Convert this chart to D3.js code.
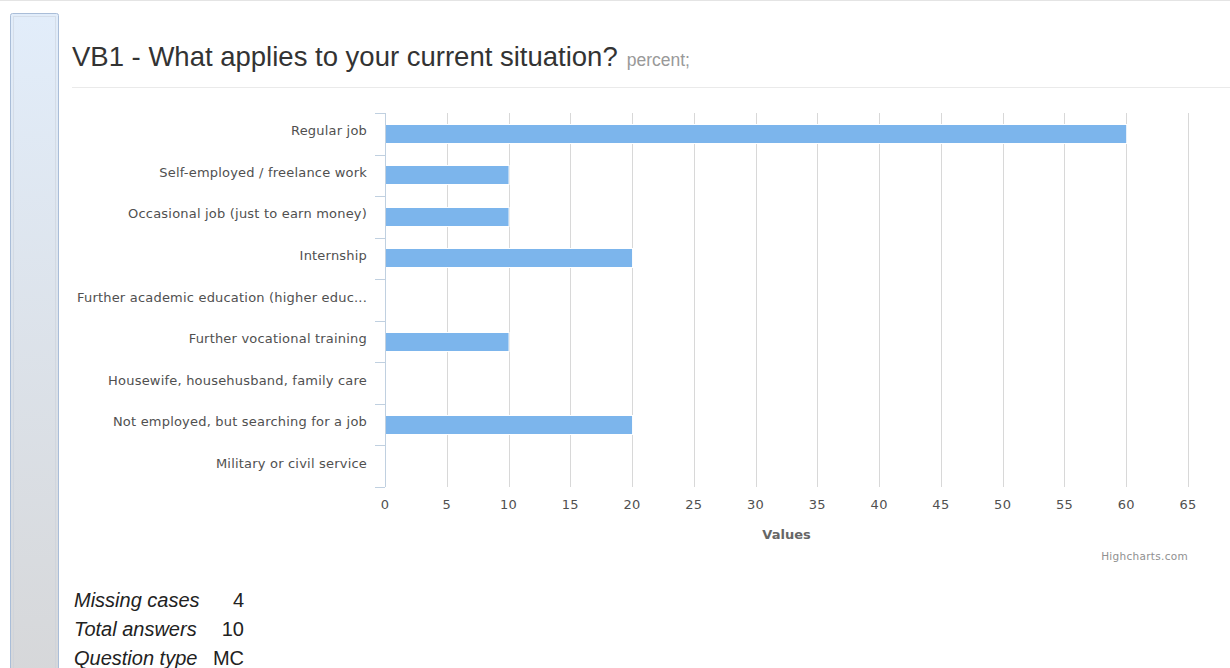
<!DOCTYPE html>
<html>
<head>
<meta charset="utf-8">
<script src="https://cdn.jsdelivr.net/npm/d3@7/dist/d3.min.js"></script>
<style>
  html, body { margin: 0; padding: 0; background: #fff; }
  svg { display: block; }
</style>
</head>
<body>
<svg id="chart" width="1230" height="668"></svg>
<script>
// Answer options and the share of respondents (percent) for each
const categories = [
  "Regular job",
  "Self-employed / freelance work",
  "Occasional job (just to earn money)",
  "Internship",
  "Further academic education (higher educ...",
  "Further vocational training",
  "Housewife, househusband, family care",
  "Not employed, but searching for a job",
  "Military or civil service"
];
const values = [60, 10, 10, 20, 0, 10, 0, 20, 0];
const valueTicks = [0, 5, 10, 15, 20, 25, 30, 35, 40, 45, 50, 55, 60, 65];

// Summary rows printed under the chart
const summaryLabels = ["Missing cases", "Total answers", "Question type"];
const summaryValues = ["4", "10", "MC"];

const svg = d3.select("#chart");
const W = 1230, H = 668;

const defs = svg.append("defs");
const grad = defs.append("linearGradient")
  .attr("id", "sideGrad").attr("x1", 0).attr("y1", 0).attr("x2", 0).attr("y2", 1);
grad.append("stop").attr("offset", "0%").attr("stop-color", "#e2edfa");
grad.append("stop").attr("offset", "100%").attr("stop-color", "#d6d7d9");

// page top rule
svg.append("line").attr("x1", 0).attr("x2", W).attr("y1", 0.5).attr("y2", 0.5)
  .attr("stroke", "#e4e4e4");

// side panel
svg.append("rect").attr("x", 10.5).attr("y", 13.5).attr("width", 48).attr("height", H)
  .attr("rx", 2).attr("fill", "url(#sideGrad)").attr("stroke", "#a9bdd8");
svg.append("rect").attr("x", 13.5).attr("y", 16.5).attr("width", 42).attr("height", H)
  .attr("fill", "none").attr("stroke", "#c9cfd8").attr("stroke-dasharray", "1,1");

// heading
const title = svg.append("text").attr("x", 72).attr("y", 66)
  .style("font-family", "'Liberation Sans', Arial, sans-serif")
  .attr("font-size", 27.5).attr("fill", "#333");
title.append("tspan").text("VB1 - What applies to your current situation?");
title.append("tspan").attr("dx", 9).attr("font-size", 17.5).attr("fill", "#999").text("percent;");

svg.append("line").attr("x1", 72).attr("x2", W).attr("y1", 87.5).attr("y2", 87.5)
  .attr("stroke", "#eaeaea");

// plot area
const plot = { left: 385, right: 1188, top: 113, bottom: 487 };
const x = d3.scaleLinear().domain([0, 65]).range([plot.left, plot.right]);
const y = d3.scaleBand().domain(categories).range([plot.top, plot.bottom]);

const fontAxis = "'DejaVu Sans', Verdana, sans-serif";

// vertical grid lines
svg.append("g").selectAll("line").data(valueTicks).join("line")
  .attr("x1", d => Math.round(x(d)) + 0.5).attr("x2", d => Math.round(x(d)) + 0.5)
  .attr("y1", plot.top).attr("y2", plot.bottom)
  .attr("stroke", "#d8d8d8");

// bars
const barH = 20;
svg.append("g").selectAll("rect").data(values.map((v, i) => ({ c: categories[i], v })))
  .join("rect")
  .filter(d => d.v > 0)
  .attr("x", x(0) + 0.5)
  .attr("y", d => Math.round(y(d.c) + y.bandwidth() / 2 - barH / 2) + 0.5)
  .attr("width", d => x(d.v) - x(0))
  .attr("height", barH - 1)
  .attr("fill", "#7cb5ec")
  .attr("stroke", "#fff").attr("stroke-width", 1);

// category axis on the left
const catAxis = svg.append("g");
catAxis.append("line").attr("x1", plot.left + 0.5).attr("x2", plot.left + 0.5)
  .attr("y1", plot.top).attr("y2", plot.bottom).attr("stroke", "#c0d0e0");
const bounds = d3.range(categories.length + 1).map(i => plot.top + i * y.step());
catAxis.selectAll("line.tick").data(bounds).join("line").attr("class", "tick")
  .attr("x1", plot.left - 10).attr("x2", plot.left)
  .attr("y1", d => Math.round(d) + 0.5).attr("y2", d => Math.round(d) + 0.5)
  .attr("stroke", "#c0d0e0");
catAxis.selectAll("text").data(categories).join("text")
  .attr("x", 367).attr("y", d => y(d) + y.bandwidth() / 2 - 2)
  .attr("text-anchor", "end").attr("dominant-baseline", "middle")
  .style("font-family", fontAxis).attr("font-size", 13).attr("letter-spacing", 0.2)
  .attr("fill", "#505050")
  .text(d => d);

// value axis labels
svg.append("g").selectAll("text").data(valueTicks).join("text")
  .attr("x", d => x(d)).attr("y", 509)
  .attr("text-anchor", "middle")
  .style("font-family", fontAxis).attr("font-size", 13).attr("letter-spacing", 0.3)
  .attr("fill", "#505050")
  .text(d => d);

svg.append("text").attr("x", (plot.left + plot.right) / 2).attr("y", 539)
  .attr("text-anchor", "middle").style("font-family", fontAxis)
  .attr("font-size", 13).attr("font-weight", "bold").attr("fill", "#666")
  .text("Values");

svg.append("text").attr("x", plot.right).attr("y", 560)
  .attr("text-anchor", "end").style("font-family", fontAxis)
  .attr("font-size", 10.5).attr("letter-spacing", 0.3).attr("fill", "#909090")
  .text("Highcharts.com");

// summary table
const rows = svg.append("g").style("font-family", "'Liberation Sans', Arial, sans-serif")
  .attr("font-size", 20).attr("fill", "#222");
summaryLabels.forEach((lab, i) => {
  rows.append("text").attr("x", 74).attr("y", 607 + i * 29)
    .attr("font-style", "italic").text(lab);
  rows.append("text").attr("x", 244).attr("y", 607 + i * 29)
    .attr("text-anchor", "end").text(summaryValues[i]);
});
</script>
</body>
</html>
